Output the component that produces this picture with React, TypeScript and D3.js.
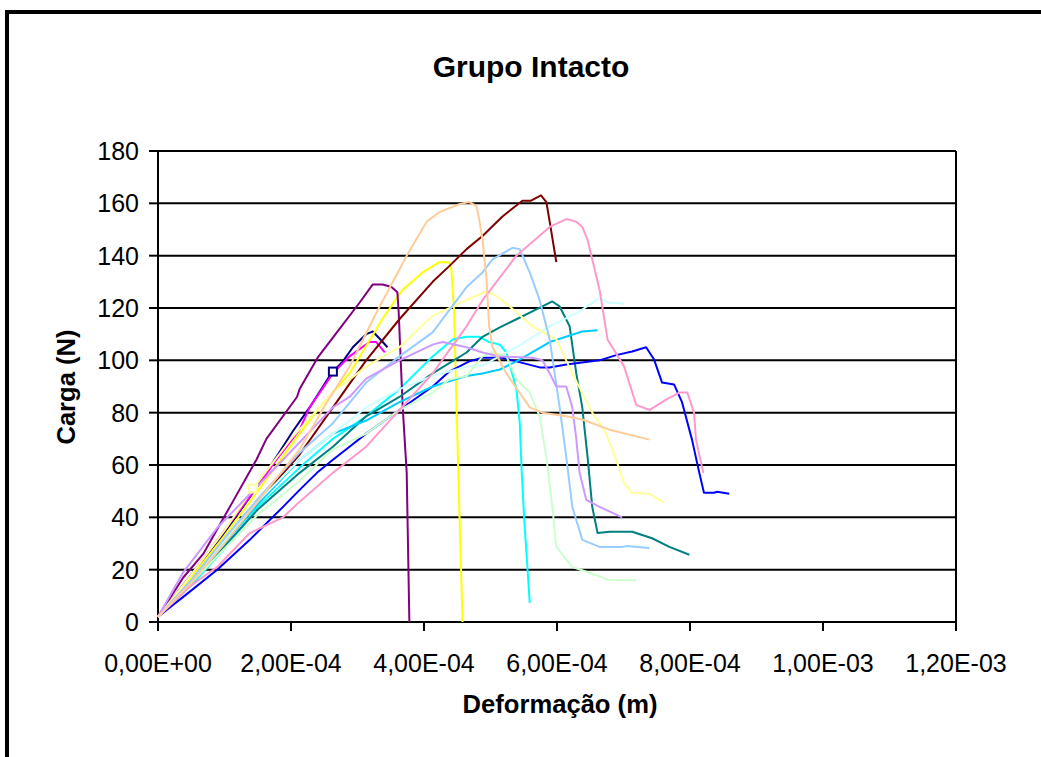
import React from 'react';
import * as d3 from 'd3';

// deformação em unidades de 1E-4 m, carga em N
const navy = [[0, 2], [0.5, 18], [1.0, 34], [1.5, 52], [2.03, 73], [2.28, 82], [2.58, 94], [2.63, 95.7], [2.78, 99.6], [2.93, 105], [3.13, 110], [3.23, 111], [3.38, 107], [3.45, 105]];
const magenta = [[0, 2], [0.5, 18], [1.0, 35], [1.53, 53], [1.78, 62], [2.13, 73.5], [2.28, 82], [2.63, 95], [2.88, 101.5], [3.18, 107], [3.28, 107], [3.41, 103]];
const yellow = [[0, 2], [0.5, 17], [1.0, 33], [1.5, 50], [2.13, 72], [2.43, 82], [2.88, 95], [3.38, 116], [3.68, 127], [3.98, 133.6], [4.23, 137.5], [4.38, 137.5], [4.41, 135], [4.45, 120], [4.49, 82], [4.53, 44], [4.58, 0]];
const cyan = [[0, 2], [0.5, 14], [1.0, 28], [1.5, 44], [2.13, 59], [2.63, 70], [3.13, 78.6], [3.63, 89], [4.13, 101.5], [4.43, 108], [4.64, 109], [4.83, 109], [4.98, 107], [5.14, 106], [5.24, 103], [5.39, 89], [5.44, 76], [5.47, 57], [5.51, 38], [5.56, 19], [5.59, 7.3]];
const purple = [[0, 2], [0.38, 17], [0.68, 26], [1.08, 44], [1.48, 62], [1.63, 70], [2.09, 86], [2.13, 89], [2.4, 101], [2.73, 112], [3.03, 122], [3.23, 129], [3.38, 129], [3.51, 128], [3.6, 126], [3.62, 118], [3.68, 82], [3.74, 57], [3.78, 0]];
const darkRed = [[0, 2], [0.5, 15], [1.0, 30], [1.5, 46], [2.13, 64], [2.63, 82], [3.13, 100], [3.63, 115.7], [4.13, 130], [4.38, 136], [4.64, 142.5], [4.88, 147.5], [5.18, 155], [5.48, 161], [5.61, 161], [5.76, 163], [5.84, 160.5], [5.89, 153], [5.99, 137.5]];
const teal = [[0, 2], [0.5, 15], [1.0, 29], [1.5, 43], [2.13, 57], [2.63, 67], [3.13, 78.6], [3.63, 86], [4.13, 95], [4.64, 103], [4.88, 109], [5.14, 112.6], [5.39, 115.7], [5.78, 120.6], [5.93, 122.5], [6.04, 120.6], [6.19, 113], [6.29, 95], [6.38, 82], [6.46, 63], [6.53, 44], [6.61, 34], [6.79, 34.5], [7.13, 34.5], [7.43, 32], [7.69, 28.7], [7.99, 25.7]];
const blue = [[0, 2], [0.38, 9.6], [0.89, 20], [1.38, 31.4], [1.88, 44], [2.13, 50.5], [2.39, 57], [2.63, 62], [2.88, 67], [3.13, 72], [3.63, 81], [4.13, 90], [4.38, 95.7], [4.68, 99.6], [4.88, 101], [5.18, 101], [5.39, 99.6], [5.74, 97.3], [5.89, 97.3], [6.14, 98.4], [6.64, 100], [6.89, 102], [7.13, 103.4], [7.34, 105], [7.46, 100.3], [7.58, 91.5], [7.76, 90.8], [7.88, 84], [8.03, 69.7], [8.14, 57], [8.21, 49.4], [8.36, 49.4], [8.41, 49.8], [8.59, 49]];
const skyBlue = [[0, 2], [0.5, 15], [1.0, 30], [1.5, 45], [2.13, 62], [2.63, 72], [3.13, 77], [3.63, 84], [4.13, 90], [4.38, 92], [4.64, 94], [4.88, 95], [5.14, 96.5], [5.39, 99.6], [5.89, 107], [6.38, 111], [6.61, 111.5]];
const lightCyan = [[0, 2], [0.5, 16], [1.0, 31], [1.5, 46], [2.13, 62], [2.63, 72], [3.13, 82], [3.63, 89], [4.13, 94], [4.64, 97.6], [4.88, 98], [5.39, 105], [5.89, 113], [6.29, 118], [6.64, 123.7], [6.79, 122], [6.98, 121.8], [7.01, 121.4]];
const lightGreen = [[0, 2], [0.5, 15], [1.0, 28], [1.5, 41], [2.13, 54], [2.63, 66], [3.13, 72], [3.63, 81], [4.13, 87.7], [4.38, 92.7], [4.64, 94], [4.88, 101.5], [5.03, 103], [5.24, 101.5], [5.39, 92.7], [5.59, 87.7], [5.74, 78.6], [5.84, 63], [5.93, 44], [5.99, 28.7], [6.23, 21], [6.49, 18.8], [6.79, 16], [7.19, 16]];
const lightYellow = [[0, 2], [0.5, 18], [1.0, 35], [1.43, 51], [2.0, 70], [2.63, 87.7], [3.13, 97.6], [3.63, 105], [4.13, 117], [4.64, 123], [4.94, 126.4], [5.09, 124.5], [5.29, 120.6], [5.63, 113], [5.99, 108], [6.23, 95], [6.53, 80], [6.74, 72], [6.89, 62], [7.01, 53], [7.13, 49.4], [7.39, 49], [7.61, 45.6]];
const lightBlue = [[0, 2], [0.5, 16], [1.0, 32], [1.5, 47], [2.13, 64.7], [2.63, 76], [3.13, 91.5], [3.63, 101.5], [4.13, 110.7], [4.64, 128], [4.88, 133.6], [5.03, 138.6], [5.33, 143], [5.44, 142.5], [5.59, 133.6], [5.74, 123], [5.89, 108], [6.04, 82], [6.14, 63], [6.23, 44], [6.38, 31.4], [6.64, 28.7], [6.98, 28.7], [7.04, 29], [7.39, 28.3]];
const pink = [[0, 2], [0.5, 14], [0.89, 21], [1.38, 34], [1.88, 40], [2.13, 46], [2.63, 57], [3.13, 67], [3.63, 81], [4.13, 95], [4.64, 113], [4.88, 123], [5.39, 140], [5.89, 151], [6.14, 154], [6.29, 153], [6.38, 151], [6.46, 146], [6.64, 127], [6.76, 108], [7.01, 97.6], [7.19, 83], [7.39, 81], [7.64, 85], [7.84, 87.7], [7.96, 87.7], [8.06, 80], [8.09, 69.7], [8.2, 57]];
const lavender = [[0, 2], [0.38, 19], [0.89, 36], [1.88, 62], [2.48, 78], [2.63, 82], [2.88, 86], [3.13, 93], [3.63, 100], [4.13, 106], [4.28, 107], [4.64, 105], [4.88, 103], [5.14, 101.5], [5.63, 101], [5.78, 100], [5.89, 95], [5.99, 90], [6.14, 90], [6.23, 82], [6.29, 70], [6.34, 57], [6.44, 46.7], [6.64, 44], [6.98, 40]];
const peach = [[0, 2], [0.5, 15], [1.0, 30], [1.5, 46], [2.13, 66], [2.54, 84], [2.88, 97.6], [3.28, 118], [3.74, 140], [4.04, 153], [4.23, 156.6], [4.53, 159.7], [4.68, 160.5], [4.79, 159], [4.83, 154], [4.88, 146], [4.94, 131], [4.98, 113], [5.03, 105], [5.24, 95], [5.59, 82], [5.78, 80], [6.14, 78.6], [6.38, 77.4], [6.79, 73.5], [7.39, 69.7]];

const series = [
  { color: '#000080', data: navy, marker: 7 },
  { color: '#FF00FF', data: magenta },
  { color: '#FFFF00', data: yellow },
  { color: '#00FFFF', data: cyan },
  { color: '#800080', data: purple },
  { color: '#800000', data: darkRed },
  { color: '#008080', data: teal },
  { color: '#0000FF', data: blue },
  { color: '#00CCFF', data: skyBlue },
  { color: '#CCFFFF', data: lightCyan },
  { color: '#CCFFCC', data: lightGreen },
  { color: '#FFFF99', data: lightYellow, marker: 3 },
  { color: '#99CCFF', data: lightBlue },
  { color: '#FF99CC', data: pink },
  { color: '#CC99FF', data: lavender },
  { color: '#FFCC99', data: peach },
];

const xTicks = [0, 2e-4, 4e-4, 6e-4, 8e-4, 1e-3, 1.2e-3];
const yTicks = [0, 20, 40, 60, 80, 100, 120, 140, 160, 180];

const UNIT = 1e-4;
const font = 'Arial, "Liberation Sans", sans-serif';

// 2e-4 -> "2,00E-04"
const fmtSci = (v: number) => {
  if (v === 0) return '0,00E+00';
  const e = Math.floor(Math.log10(Math.abs(v)) + 1e-9);
  const m = v / Math.pow(10, e);
  return m.toFixed(2).replace('.', ',') + 'E' + (e < 0 ? '-' : '+') + String(Math.abs(e)).padStart(2, '0');
};

const App = () => {
  const width = 1041;
  const height = 757;
  const plot = { left: 158, right: 956, top: 151, bottom: 622 };

  const x = d3.scaleLinear().domain([0, 1.2e-3]).range([plot.left, plot.right]);
  const y = d3.scaleLinear().domain([0, 180]).range([plot.bottom, plot.top]);

  const line = d3.line<number[]>()
    .x(d => x(d[0] * UNIT))
    .y(d => y(d[1]));

  return (
    <svg width={width} height={height} style={{ position: 'absolute', left: 0, top: 0, background: '#fff' }}>
      <rect x={0} y={0} width={width} height={height} fill="#fff" />
      {/* moldura do gráfico */}
      <rect x={7} y={12} width={1100} height={800} fill="none" stroke="#000" strokeWidth={4} />

      <text x={531} y={77} textAnchor="middle" fontFamily={font} fontWeight="bold" fontSize={30}>Grupo Intacto</text>

      {/* grade */}
      {yTicks.map(t => (
        <line key={'g' + t} x1={plot.left} x2={plot.right} y1={y(t)} y2={y(t)} stroke="#000" strokeWidth={2} />
      ))}
      <line x1={plot.right} x2={plot.right} y1={plot.top} y2={plot.bottom} stroke="#000" strokeWidth={2} />

      {/* eixos */}
      <line x1={plot.left} x2={plot.left} y1={plot.top} y2={plot.bottom + 1} stroke="#000" strokeWidth={2} />
      <line x1={plot.left} x2={plot.right + 1} y1={plot.bottom} y2={plot.bottom} stroke="#000" strokeWidth={2} />
      {yTicks.map(t => (
        <g key={'y' + t}>
          <line x1={plot.left - 9} x2={plot.left} y1={y(t)} y2={y(t)} stroke="#000" strokeWidth={2} />
          <text x={139} y={y(t) + 9} textAnchor="end" fontFamily={font} fontSize={25}>{t}</text>
        </g>
      ))}
      {xTicks.map(t => (
        <g key={'x' + t}>
          <line x1={x(t)} x2={x(t)} y1={plot.bottom} y2={plot.bottom + 9} stroke="#000" strokeWidth={2} />
          <text x={x(t)} y={672} textAnchor="middle" fontFamily={font} fontSize={25}>{fmtSci(t)}</text>
        </g>
      ))}

      <text x={560} y={713} textAnchor="middle" fontFamily={font} fontWeight="bold" fontSize={25.6}>Deformação (m)</text>
      <text transform="translate(75,387) rotate(-90)" textAnchor="middle" fontFamily={font} fontWeight="bold" fontSize={25.6}>Carga (N)</text>

      {/* curvas */}
      <g>
        {series.map((s, i) => (
          <path key={i} d={line(s.data) || ''} fill="none" stroke={s.color} strokeWidth={2} strokeLinejoin="round" />
        ))}
        {series.filter(s => s.marker !== undefined).map((s, i) => {
          const p = s.data[s.marker as number];
          return (
            <rect key={'m' + i} x={x(p[0] * UNIT) - 4} y={y(p[1]) - 4} width={8} height={8}
              fill="#fff" stroke={s.color} strokeWidth={2} />
          );
        })}
      </g>
    </svg>
  );
};

export default App;
